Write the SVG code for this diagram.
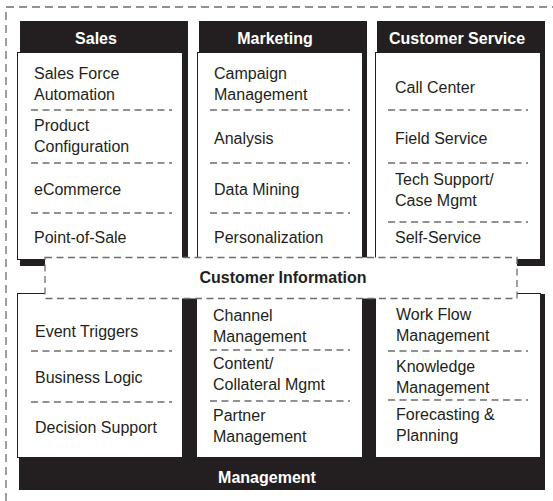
<svg xmlns="http://www.w3.org/2000/svg" width="553" height="501" viewBox="0 0 553 501">
<style>
.bg{fill:#231f20}
.box{fill:#fff;stroke:#231f20;stroke-width:1}
.t{font-family:"Liberation Sans",Arial,sans-serif;font-size:16px;fill:#231f20}
.h{font-family:"Liberation Sans",Arial,sans-serif;font-size:16px;font-weight:bold;fill:#fff;text-anchor:middle}
.hb{font-family:"Liberation Sans",Arial,sans-serif;font-size:16px;font-weight:bold;fill:#231f20;text-anchor:middle}
.sep{stroke:#6d6e71;stroke-width:1.3;stroke-dasharray:7 4.5;fill:none}
.outer{stroke:#6d6e71;stroke-width:1.3;stroke-dasharray:8 5;fill:none}
</style>
<rect width="553" height="501" fill="#fff"/>
<g id="frame">
<path class="outer" d="M6 501 V7 H553"/>
</g>
<g id="management">
<rect class="bg" x="19" y="294" width="526" height="196"/>
<text class="h" x="267" y="483">Management</text>
</g>
<g id="sales">
<rect class="bg" x="20" y="21" width="168" height="245"/>
<text class="h" x="96" y="44">Sales</text>
<rect class="box" x="17.5" y="52.5" width="165" height="207"/>
<text class="t" x="34" y="79">Sales Force</text>
<text class="t" x="34" y="100">Automation</text>
<text class="t" x="34" y="131">Product</text>
<text class="t" x="34" y="152">Configuration</text>
<text class="t" x="34" y="195">eCommerce</text>
<text class="t" x="34" y="243">Point-of-Sale</text>
<path class="sep" d="M31 110H172M31 163H172M31 213H172"/>
</g>
<g id="marketing">
<rect class="bg" x="199" y="21" width="168" height="245"/>
<text class="h" x="275" y="44">Marketing</text>
<rect class="box" x="197.5" y="52.5" width="165" height="207"/>
<text class="t" x="214" y="79">Campaign</text>
<text class="t" x="214" y="100">Management</text>
<text class="t" x="214" y="144">Analysis</text>
<text class="t" x="214" y="195">Data Mining</text>
<text class="t" x="214" y="243">Personalization</text>
<path class="sep" d="M210 110H350M210 163H350M210 213H350"/>
</g>
<g id="customer-service">
<rect class="bg" x="377" y="21" width="168" height="245"/>
<text class="h" x="457" y="44">Customer Service</text>
<rect class="box" x="375.5" y="52.5" width="165" height="207"/>
<text class="t" x="395" y="93">Call Center</text>
<text class="t" x="395" y="144">Field Service</text>
<text class="t" x="395" y="185">Tech Support/</text>
<text class="t" x="395" y="206">Case Mgmt</text>
<text class="t" x="395" y="243">Self-Service</text>
<path class="sep" d="M388 110H528M388 163H528M388 222H528"/>
</g>
<g id="lower-left">
<rect class="box" x="17.5" y="293.5" width="165" height="164"/>
<text class="t" x="35" y="337">Event Triggers</text>
<text class="t" x="35" y="383">Business Logic</text>
<text class="t" x="35" y="433">Decision Support</text>
<path class="sep" d="M31 351H172M31 402H172"/>
</g>
<g id="lower-middle">
<rect class="box" x="196.5" y="293.5" width="166" height="164"/>
<text class="t" x="213" y="321">Channel</text>
<text class="t" x="213" y="342">Management</text>
<text class="t" x="213" y="369">Content/</text>
<text class="t" x="213" y="390">Collateral Mgmt</text>
<text class="t" x="213" y="421">Partner</text>
<text class="t" x="213" y="442">Management</text>
<path class="sep" d="M210 350H350M210 401H350"/>
</g>
<g id="lower-right">
<rect class="box" x="375.5" y="293.5" width="165" height="164"/>
<text class="t" x="396" y="320">Work Flow</text>
<text class="t" x="396" y="341">Management</text>
<text class="t" x="396" y="372">Knowledge</text>
<text class="t" x="396" y="393">Management</text>
<text class="t" x="396" y="420">Forecasting &amp;</text>
<text class="t" x="396" y="441">Planning</text>
<path class="sep" d="M388 351H528M388 400H528"/>
</g>
<g id="customer-information">
<rect x="45" y="257.5" width="472" height="41" fill="#fff" stroke="#6d6e71" stroke-width="1.3" stroke-dasharray="7 4.5"/>
<text class="hb" x="283" y="283">Customer Information</text>
</g>
<g id="connectors"></g>
</svg>
